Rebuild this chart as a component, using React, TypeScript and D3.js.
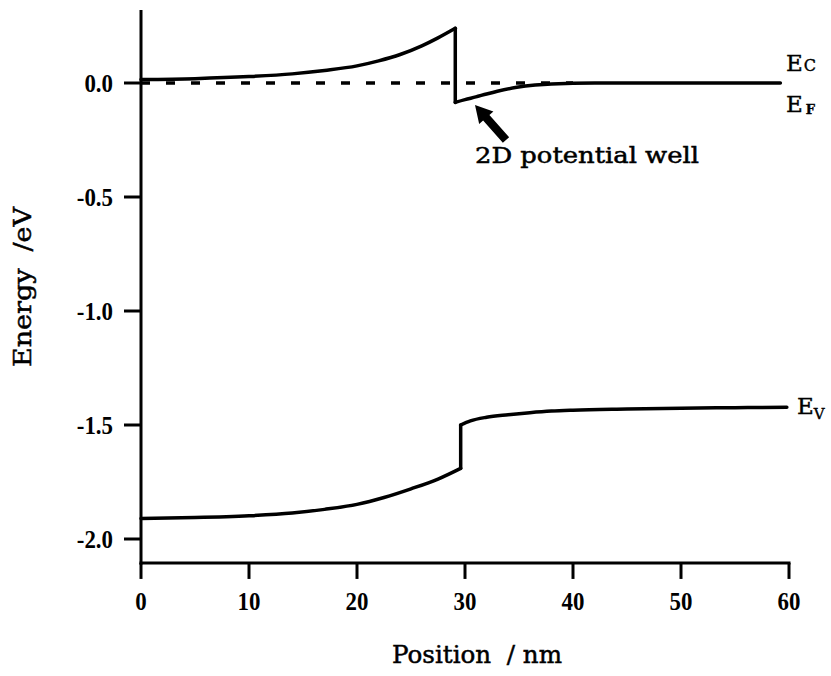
import React from "react";
import * as d3 from "d3";

const W = 831;
const H = 676;

// Conduction band edge E_C (Position nm, Energy eV); the step occurs between index 10 and 11
const ecPos = [0, 5, 10, 14, 17, 20, 22, 24, 26, 27.5, 29.1, 29.1, 30, 31, 32, 33, 34.8, 36.5, 38, 42, 50, 59.2];
const ecVal = [0.015, 0.019, 0.028, 0.04, 0.055, 0.075, 0.097, 0.125, 0.163, 0.198, 0.24, -0.085, -0.073, -0.061, -0.048, -0.036, -0.019, -0.009, -0.004, 0, 0, 0];

// Valence band edge E_V; the step occurs between index 9 and 10
const evPos = [0, 5, 10, 14, 17, 20, 22.5, 25, 27.5, 29.6, 29.6, 30.5, 32, 34, 36, 38, 40, 45, 50, 55, 59.8];
const evVal = [-1.91, -1.906, -1.898, -1.886, -1.87, -1.848, -1.818, -1.78, -1.737, -1.69, -1.5, -1.482, -1.466, -1.455, -1.446, -1.439, -1.435, -1.43, -1.426, -1.424, -1.422];

// Fermi level E_F (dashed)
const efPos = [0, 40];
const efVal = [0, 0];

const xTicks = [0, 10, 20, 30, 40, 50, 60];
const yTicks = [0, -0.5, -1.0, -1.5, -2.0];
const yTickLabels = ["0.0", "-0.5", "-1.0", "-1.5", "-2.0"];

export default function App() {
  const x = d3.scaleLinear().domain([0, 60]).range([141, 789]);
  const y = d3.scaleLinear().domain([0, -2]).range([83, 539]);

  const smooth = d3
    .line<[number, number]>()
    .x((d) => x(d[0]))
    .y((d) => y(d[1]))
    .curve(d3.curveMonotoneX);
  const straight = d3
    .line<[number, number]>()
    .x((d) => x(d[0]))
    .y((d) => y(d[1]));

  const ec = ecPos.map((p, i) => [p, ecVal[i]] as [number, number]);
  const ev = evPos.map((p, i) => [p, evVal[i]] as [number, number]);
  const ef = efPos.map((p, i) => [p, efVal[i]] as [number, number]);

  const ecL = ec.slice(0, 11), ecR = ec.slice(11);
  const evL = ev.slice(0, 10), evR = ev.slice(10);

  const axisX = x(0);
  const axisY = y(-2.105);
  const yTop = y(0.32);

  // arrow
  const tip = [475, 105];
  const tail = [506, 140];
  const dx = tip[0] - tail[0];
  const dy = tip[1] - tail[1];
  const len = Math.hypot(dx, dy);
  const ux = dx / len, uy = dy / len;
  const nx = -uy, ny = ux;
  const hl = 17, hw = 9.5, sw = 4.2;
  const bx = tip[0] - ux * hl, by = tip[1] - uy * hl;
  const arrowPts = [
    [tip[0], tip[1]],
    [bx + nx * hw, by + ny * hw],
    [bx + nx * sw, by + ny * sw],
    [tail[0] + nx * sw, tail[1] + ny * sw],
    [tail[0] - nx * sw, tail[1] - ny * sw],
    [bx - nx * sw, by - ny * sw],
    [bx - nx * hw, by - ny * hw],
  ]
    .map((p) => p.join(","))
    .join(" ");

  const tickFont = "'Liberation Serif', 'Times New Roman', serif";
  const labelFont = "'DejaVu Serif', serif";
  const lw = 3.5;

  return (
    <svg
      width={W}
      height={H}
      viewBox={`0 0 ${W} ${H}`}
      style={{ position: "absolute", left: 0, top: 0, background: "#fff" }}
    >
      <rect x={0} y={0} width={W} height={H} fill="#fff" />
      {/* axes */}
      <line x1={axisX} y1={yTop} x2={axisX} y2={axisY + 1.5} stroke="#000" strokeWidth={3} />
      <line x1={axisX - 1.5} y1={axisY} x2={x(60) + 1.5} y2={axisY} stroke="#000" strokeWidth={3} />
      {yTicks.map((t, i) => (
        <g key={"yt" + i}>
          <line x1={axisX - 17} x2={axisX} y1={y(t)} y2={y(t)} stroke="#000" strokeWidth={3} />
          <text
            transform={`translate(${axisX - 28},${y(t) + 9}) scale(0.88,1)`}
            textAnchor="end"
            fontFamily={tickFont}
            fontWeight="bold"
            fontSize={26}
          >
            {yTickLabels[i]}
          </text>
        </g>
      ))}
      {xTicks.map((t, i) => (
        <g key={"xt" + i}>
          <line x1={x(t)} x2={x(t)} y1={axisY} y2={axisY + 16} stroke="#000" strokeWidth={3} />
          <text
            transform={`translate(${x(t)},${axisY + 47}) scale(0.88,1)`}
            textAnchor="middle"
            fontFamily={tickFont}
            fontWeight="bold"
            fontSize={26}
          >
            {t}
          </text>
        </g>
      ))}

      {/* curves */}
      <path d={straight(ef) || ""} fill="none" stroke="#000" strokeWidth={3.5} strokeDasharray="9,16" />
      <g fill="none" stroke="#000" strokeWidth={lw} strokeLinecap="round" strokeLinejoin="round">
        <path d={smooth(ecL) || ""} />
        <path d={straight([ecL[ecL.length - 1], ecR[0]]) || ""} />
        <path d={smooth(ecR) || ""} />
        <path d={smooth(evL) || ""} />
        <path d={straight([evL[evL.length - 1], evR[0]]) || ""} />
        <path d={smooth(evR) || ""} />
      </g>

      {/* band labels */}
      <g fontFamily={labelFont} stroke="#000" strokeWidth={0.4}>
        <text x={786} y={71} fontSize={23}>
          E
          <tspan fontSize={16} dx={1}>C</tspan>
        </text>
        <text x={786} y={112} fontSize={23}>
          E
          <tspan fontSize={13} fontWeight="bold" dx={3} dy={2}>F</tspan>
        </text>
        <text x={797} y={414} fontSize={23}>
          E
          <tspan fontSize={15} dy={5}>V</tspan>
        </text>
      </g>

      {/* annotation */}
      <polygon points={arrowPts} fill="#000" />
      <text
        x={475}
        y={163}
        fontFamily={labelFont}
        fontSize={22}
        stroke="#000"
        strokeWidth={0.5}
        textLength={224}
        lengthAdjust="spacingAndGlyphs"
      >
        2D potential well
      </text>

      {/* axis titles */}
      <text
        x={477}
        y={663}
        textAnchor="middle"
        fontFamily={labelFont}
        fontSize={25}
        stroke="#000"
        strokeWidth={0.5}
        textLength={170}
        lengthAdjust="spacingAndGlyphs"
        xmlSpace="preserve"
      >
        Position  / nm
      </text>
      <text
        transform={`translate(31,287) rotate(-90)`}
        textAnchor="middle"
        fontFamily={labelFont}
        fontSize={25}
        stroke="#000"
        strokeWidth={0.5}
        textLength={160}
        lengthAdjust="spacingAndGlyphs"
        xmlSpace="preserve"
      >
        Energy  /eV
      </text>
    </svg>
  );
}
